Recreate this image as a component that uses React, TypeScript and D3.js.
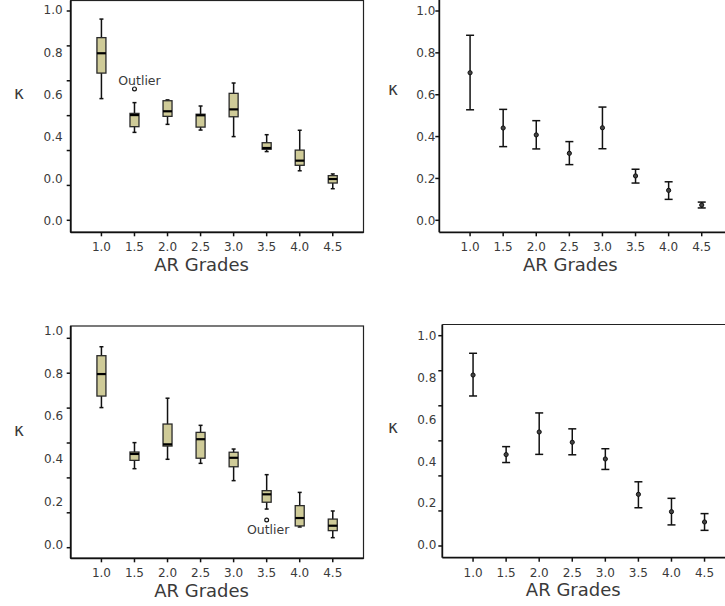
import React from "react";
import * as d3 from "d3";

const grades = ["1.0", "1.5", "2.0", "2.5", "3.0", "3.5", "4.0", "4.5"];
const yLabelsTL = ["1.0", "0.8", "0.6", "0.4", "0.0", "0.0"];
const yLabels = ["1.0", "0.8", "0.6", "0.4", "0.2", "0.0"];

// Top-left box plot
const tlLow = [0.58, 0.42, 0.458, 0.431, 0.4, 0.329, 0.238, 0.153];
const tlQ1 = [0.701, 0.447, 0.496, 0.445, 0.494, 0.34, 0.264, 0.18];
const tlMed = [0.795, 0.502, 0.52, 0.501, 0.529, 0.346, 0.286, 0.199];
const tlQ3 = [0.869, 0.51, 0.57, 0.506, 0.605, 0.371, 0.336, 0.215];
const tlHigh = [0.957, 0.561, 0.574, 0.545, 0.654, 0.409, 0.43, 0.223];
const tlOutlierGrade = "1.5";
const tlOutlierValue = 0.626;

// Top-right mean + interval
const trMean = [0.705, 0.441, 0.408, 0.32, 0.442, 0.212, 0.143, 0.073];
const trLow = [0.528, 0.352, 0.341, 0.266, 0.342, 0.178, 0.1, 0.059];
const trHigh = [0.884, 0.53, 0.476, 0.376, 0.541, 0.244, 0.184, 0.087];

// Bottom-left box plot
const blLow = [0.64, 0.354, 0.398, 0.379, 0.298, 0.165, 0.081, 0.031];
const blQ1 = [0.694, 0.393, 0.46, 0.403, 0.363, 0.197, 0.086, 0.064];
const blMed = [0.797, 0.423, 0.468, 0.492, 0.405, 0.234, 0.123, 0.087];
const blQ3 = [0.883, 0.432, 0.563, 0.524, 0.431, 0.251, 0.181, 0.118];
const blHigh = [0.925, 0.476, 0.684, 0.557, 0.446, 0.326, 0.243, 0.156];
const blOutlierGrade = "3.5";
const blOutlierValue = 0.114;

// Bottom-right mean + interval
const brMean = [0.812, 0.432, 0.54, 0.491, 0.411, 0.242, 0.159, 0.11];
const brLow = [0.712, 0.394, 0.433, 0.431, 0.361, 0.178, 0.096, 0.07];
const brHigh = [0.916, 0.47, 0.631, 0.555, 0.46, 0.302, 0.223, 0.15];

const FONT = "DejaVu Sans, Verdana, sans-serif";
const TEXT = "#3a3a3a";
const BOXFILL = "#cfcb98";

type PanelCfg = {
  left: number;
  right: number;
  top: number;
  bottom: number;
  yLab: [number, number]; // pixel of 0 and 1
  yTick7?: [number, number];
  labels: string[];
  frame: boolean;
  labelGap: number;
  kx: number;
  ky: number;
};

function Axes({ c, x, y }: { c: PanelCfg; x: d3.ScalePoint<string>; y: d3.ScaleLinear<number, number> }) {
  const labelVals = d3.range(5, -1, -1).map((i) => i / 5);
  const tickScale = c.yTick7 ? d3.scaleLinear().domain([0, 6]).range(c.yTick7) : null;
  const tickYs = tickScale ? d3.range(7).map((i) => tickScale(i)) : labelVals.map((v) => y(v));
  return (
    <g>
      {c.frame && (
        <rect x={c.left} y={c.top} width={c.right - c.left} height={c.bottom - c.top} fill="none" stroke="#222" strokeWidth={1.2} />
      )}
      {!c.frame && (
        <line x1={c.left} x2={c.right} y1={c.top} y2={c.top} stroke="#222" strokeWidth={1.2} />
      )}
      <line x1={c.left} x2={c.left} y1={c.top} y2={c.bottom} stroke="#111" strokeWidth={1.8} />
      <line x1={c.left} x2={c.right} y1={c.bottom} y2={c.bottom} stroke="#111" strokeWidth={1.8} />
      {tickYs.map((ty, i) => (
        <line key={"t" + i} x1={c.left - 4} x2={c.left} y1={ty} y2={ty} stroke="#111" strokeWidth={1.5} />
      ))}
      {c.labels.map((lab, i) => (
        <text key={"l" + i} x={c.left - c.labelGap} y={y(labelVals[i]) + 4.3} textAnchor="end" fontSize={12} fill={TEXT} fontFamily={FONT}>
          {lab}
        </text>
      ))}
      {grades.map((g) => (
        <g key={g}>
          <line x1={x(g)} x2={x(g)} y1={c.bottom} y2={c.bottom + 4} stroke="#111" strokeWidth={1.5} />
          <text x={x(g)} y={c.bottom + 19} textAnchor="middle" fontSize={12} fill={TEXT} fontFamily={FONT}>
            {g}
          </text>
        </g>
      ))}
      <text x={(x("2.5") as number) + 1} y={c.bottom + 38.5} textAnchor="middle" fontSize={18} fill={TEXT} fontFamily={FONT}>
        AR Grades
      </text>
      <text x={c.kx} y={c.ky} textAnchor="middle" fontSize={17} fill={TEXT} fontFamily={FONT}>
        κ
      </text>
    </g>
  );
}

function makeScales(c: PanelCfg) {
  const x = d3.scalePoint<string>().domain(grades).range([c.left, c.right]).padding(0.93);
  const y = d3.scaleLinear().domain([0, 1]).range(c.yLab);
  return { x, y };
}

function BoxPanel({ c, low, q1, med, q3, high, og, ov, otx, oty }: any) {
  const { x, y } = makeScales(c);
  const bw = 9;
  return (
    <g>
      <Axes c={c} x={x} y={y} />
      {grades.map((g, i) => {
        const cx = x(g) as number;
        return (
          <g key={g}>
            <line x1={cx} x2={cx} y1={y(high[i])} y2={y(low[i])} stroke="#111" strokeWidth={1.5} />
            <line x1={cx - 2} x2={cx + 2} y1={y(high[i])} y2={y(high[i])} stroke="#111" strokeWidth={1.5} />
            <line x1={cx - 2} x2={cx + 2} y1={y(low[i])} y2={y(low[i])} stroke="#111" strokeWidth={1.5} />
            <rect x={cx - bw / 2} y={y(q3[i])} width={bw} height={y(q1[i]) - y(q3[i])} fill={BOXFILL} stroke="#2a2a2a" strokeWidth={1.3} />
            <line x1={cx - bw / 2} x2={cx + bw / 2} y1={y(med[i])} y2={y(med[i])} stroke="#000" strokeWidth={2.2} />
          </g>
        );
      })}
      <circle cx={x(og)} cy={y(ov)} r={1.9} fill="#fff" stroke="#111" strokeWidth={1.2} />
      <text x={(x(og) as number) + otx} y={y(ov) + oty} textAnchor="middle" fontSize={12.5} fill={TEXT} fontFamily={FONT}>
        Outlier
      </text>
    </g>
  );
}

function ErrPanel({ c, mean, low, high }: any) {
  const { x, y } = makeScales(c);
  return (
    <g>
      <Axes c={c} x={x} y={y} />
      {grades.map((g, i) => {
        const cx = x(g) as number;
        return (
          <g key={g}>
            <line x1={cx} x2={cx} y1={y(high[i])} y2={y(low[i])} stroke="#111" strokeWidth={1.5} />
            <line x1={cx - 4} x2={cx + 4} y1={y(high[i])} y2={y(high[i])} stroke="#111" strokeWidth={1.5} />
            <line x1={cx - 4} x2={cx + 4} y1={y(low[i])} y2={y(low[i])} stroke="#111" strokeWidth={1.5} />
            <circle cx={cx} cy={y(mean[i])} r={2.1} fill="#444" stroke="#111" strokeWidth={1} />
          </g>
        );
      })}
    </g>
  );
}

const TL: PanelCfg = { left: 70.7, right: 363.5, top: 0.5, bottom: 232.3, yLab: [221, 10], yTick7: [220.3, 11], labels: yLabelsTL, frame: true, labelGap: 8, kx: 19, ky: 98.5 };
const TR: PanelCfg = { left: 439.3, right: 732.5, top: -2, bottom: 232.3, yLab: [220.3, 11], labels: yLabels, frame: false, labelGap: 4, kx: 393, ky: 94.5 };
const BL: PanelCfg = { left: 70.7, right: 363.5, top: 326, bottom: 558.3, yLab: [544.3, 330.7], yTick7: [547.7, 338.3], labels: yLabels, frame: true, labelGap: 7.5, kx: 19, ky: 436 };
const BR: PanelCfg = { left: 442.3, right: 735.3, top: 324.5, bottom: 557.7, yLab: [545, 335.7], yTick7: [546, 335.7], labels: yLabels, frame: false, labelGap: 6, kx: 393, ky: 432.7 };

export default function App() {
  return (
    <svg width={725} height={606} style={{ position: "absolute", left: 0, top: 0, background: "#fff" }}>
      <rect x={0} y={0} width={725} height={606} fill="#fff" />
      <BoxPanel c={TL} low={tlLow} q1={tlQ1} med={tlMed} q3={tlQ3} high={tlHigh} og={tlOutlierGrade} ov={tlOutlierValue} otx={5} oty={-4} />
      <ErrPanel c={TR} mean={trMean} low={trLow} high={trHigh} />
      <BoxPanel c={BL} low={blLow} q1={blQ1} med={blMed} q3={blQ3} high={blHigh} og={blOutlierGrade} ov={blOutlierValue} otx={1.5} oty={14} />
      <ErrPanel c={BR} mean={brMean} low={brLow} high={brHigh} />
    </svg>
  );
}
